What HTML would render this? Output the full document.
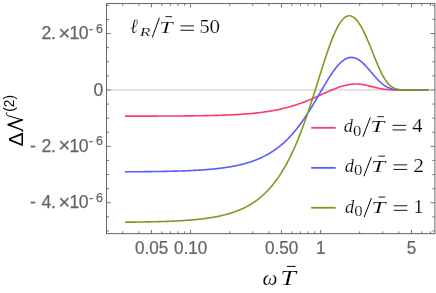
<!DOCTYPE html>
<html><head><meta charset="utf-8"><style>
html,body{margin:0;padding:0;background:#fff;}
svg{display:block;will-change:transform}
text{font-family:"Liberation Sans",sans-serif;}
.s{font-family:"Liberation Serif",serif;}
</style></head><body>
<svg width="436" height="293" viewBox="0 0 436 293">
<rect width="436" height="293" fill="#fff"/>
<line x1="106.5" y1="89.95" x2="434.9" y2="89.95" stroke="#c8c8c8" stroke-width="1"/>
<g fill="none" stroke-width="1.6" stroke-linecap="butt" stroke-linejoin="round">
<path d="M125.00,116.15 L126.00,116.14 L127.00,116.14 L128.00,116.14 L129.00,116.14 L130.00,116.14 L131.00,116.14 L132.00,116.14 L133.00,116.14 L134.00,116.13 L135.00,116.13 L136.00,116.13 L137.00,116.13 L138.00,116.13 L139.00,116.13 L140.00,116.12 L141.00,116.12 L142.00,116.12 L143.00,116.12 L144.00,116.12 L145.00,116.11 L146.00,116.11 L147.00,116.11 L148.00,116.11 L149.00,116.10 L150.00,116.10 L151.00,116.10 L152.00,116.10 L153.00,116.09 L154.00,116.09 L155.00,116.09 L156.00,116.08 L157.00,116.08 L158.00,116.08 L159.00,116.07 L160.00,116.07 L161.00,116.06 L162.00,116.06 L163.00,116.06 L164.00,116.05 L165.00,116.05 L166.00,116.04 L167.00,116.04 L168.00,116.03 L169.00,116.03 L170.00,116.02 L171.00,116.02 L172.00,116.01 L173.00,116.01 L174.00,116.00 L175.00,115.99 L176.00,115.99 L177.00,115.98 L178.00,115.97 L179.00,115.96 L180.00,115.96 L181.00,115.95 L182.00,115.94 L183.00,115.93 L184.00,115.92 L185.00,115.91 L186.00,115.90 L187.00,115.89 L188.00,115.88 L189.00,115.87 L190.00,115.86 L191.00,115.85 L192.00,115.84 L193.00,115.83 L194.00,115.81 L195.00,115.80 L196.00,115.79 L197.00,115.77 L198.00,115.76 L199.00,115.74 L200.00,115.73 L201.00,115.71 L202.00,115.70 L203.00,115.68 L204.00,115.66 L205.00,115.64 L206.00,115.62 L207.00,115.60 L208.00,115.58 L209.00,115.56 L210.00,115.54 L211.00,115.52 L212.00,115.49 L213.00,115.47 L214.00,115.44 L215.00,115.42 L216.00,115.39 L217.00,115.36 L218.00,115.33 L219.00,115.30 L220.00,115.27 L221.00,115.24 L222.00,115.20 L223.00,115.17 L224.00,115.13 L225.00,115.10 L226.00,115.06 L227.00,115.02 L228.00,114.98 L229.00,114.93 L230.00,114.89 L231.00,114.84 L232.00,114.80 L233.00,114.75 L234.00,114.70 L235.00,114.65 L236.00,114.59 L237.00,114.54 L238.00,114.48 L239.00,114.42 L240.00,114.36 L241.00,114.29 L242.00,114.23 L243.00,114.16 L244.00,114.09 L245.00,114.01 L246.00,113.94 L247.00,113.86 L248.00,113.78 L249.00,113.69 L250.00,113.61 L251.00,113.52 L252.00,113.43 L253.00,113.33 L254.00,113.23 L255.00,113.13 L256.00,113.02 L257.00,112.92 L258.00,112.80 L259.00,112.69 L260.00,112.57 L261.00,112.45 L262.00,112.32 L263.00,112.19 L264.00,112.05 L265.00,111.91 L266.00,111.77 L267.00,111.62 L268.00,111.47 L269.00,111.31 L270.00,111.15 L271.00,110.98 L272.00,110.81 L273.00,110.63 L274.00,110.45 L275.00,110.26 L276.00,110.06 L277.00,109.86 L278.00,109.66 L279.00,109.45 L280.00,109.23 L281.00,109.01 L282.00,108.78 L283.00,108.54 L284.00,108.30 L285.00,108.05 L286.00,107.80 L287.00,107.53 L288.00,107.27 L289.00,106.99 L290.00,106.71 L291.00,106.42 L292.00,106.12 L293.00,105.82 L294.00,105.51 L295.00,105.20 L296.00,104.87 L297.00,104.54 L298.00,104.20 L299.00,103.86 L300.00,103.51 L301.00,103.15 L302.00,102.78 L303.00,102.41 L304.00,102.03 L305.00,101.65 L306.00,101.25 L307.00,100.86 L308.00,100.45 L309.00,100.04 L310.00,99.63 L311.00,99.21 L312.00,98.78 L313.00,98.35 L314.00,97.92 L315.00,97.48 L316.00,97.04 L317.00,96.59 L318.00,96.14 L319.00,95.69 L320.00,95.24 L321.00,94.79 L322.00,94.33 L323.00,93.88 L324.00,93.43 L325.00,92.97 L326.00,92.52 L327.00,92.08 L328.00,91.63 L329.00,91.19 L330.00,90.76 L331.00,90.33 L332.00,89.90 L333.00,89.49 L334.00,89.08 L335.00,88.68 L336.00,88.29 L337.00,87.91 L338.00,87.55 L339.00,87.20 L340.00,86.86 L341.00,86.53 L342.00,86.22 L343.00,85.93 L344.00,85.66 L345.00,85.40 L346.00,85.17 L347.00,84.95 L348.00,84.75 L349.00,84.58 L350.00,84.43 L351.00,84.30 L352.00,84.19 L353.00,84.11 L354.00,84.06 L355.00,84.02 L356.00,84.02 L357.00,84.03 L358.00,84.07 L359.00,84.14 L360.00,84.22 L361.00,84.33 L362.00,84.46 L363.00,84.61 L364.00,84.78 L365.00,84.97 L366.00,85.18 L367.00,85.39 L368.00,85.62 L369.00,85.86 L370.00,86.11 L371.00,86.36 L372.00,86.62 L373.00,86.88 L374.00,87.13 L375.00,87.38 L376.00,87.63 L377.00,87.86 L378.00,88.09 L379.00,88.31 L380.00,88.51 L381.00,88.70 L382.00,88.87 L383.00,89.03 L384.00,89.18 L385.00,89.31 L386.00,89.42 L387.00,89.52 L388.00,89.60 L389.00,89.68 L390.00,89.74 L391.00,89.79 L392.00,89.83 L393.00,89.86 L394.00,89.89 L395.00,89.91 L396.00,89.92 L397.00,89.93 L398.00,89.94 L399.00,89.94 L400.00,89.95 L401.00,89.95 L402.00,89.95 L403.00,89.95 L404.00,89.95 L405.00,89.95 L406.00,89.95 L407.00,89.95 L408.00,89.95 L409.00,89.95 L410.00,89.95 L411.00,89.95 L412.00,89.95 L413.00,89.95 L414.00,89.95 L415.00,89.95 L416.00,89.95 L417.00,89.95 L418.00,89.95 L419.00,89.95 L420.00,89.95 L421.00,89.95 L422.00,89.95 L423.00,89.95 L424.00,89.95 L425.00,89.95 L426.00,89.95 L427.00,89.95 L428.00,89.95 L429.00,89.95" stroke="#fa3e66"/>
<path d="M125.00,171.80 L126.00,171.80 L127.00,171.79 L128.00,171.79 L129.00,171.78 L130.00,171.77 L131.00,171.77 L132.00,171.76 L133.00,171.75 L134.00,171.75 L135.00,171.74 L136.00,171.73 L137.00,171.73 L138.00,171.72 L139.00,171.71 L140.00,171.70 L141.00,171.69 L142.00,171.68 L143.00,171.68 L144.00,171.67 L145.00,171.66 L146.00,171.65 L147.00,171.64 L148.00,171.62 L149.00,171.61 L150.00,171.60 L151.00,171.59 L152.00,171.58 L153.00,171.56 L154.00,171.55 L155.00,171.54 L156.00,171.52 L157.00,171.51 L158.00,171.49 L159.00,171.48 L160.00,171.46 L161.00,171.44 L162.00,171.43 L163.00,171.41 L164.00,171.39 L165.00,171.37 L166.00,171.35 L167.00,171.33 L168.00,171.31 L169.00,171.29 L170.00,171.27 L171.00,171.24 L172.00,171.22 L173.00,171.19 L174.00,171.17 L175.00,171.14 L176.00,171.11 L177.00,171.08 L178.00,171.05 L179.00,171.02 L180.00,170.99 L181.00,170.96 L182.00,170.93 L183.00,170.89 L184.00,170.85 L185.00,170.82 L186.00,170.78 L187.00,170.74 L188.00,170.70 L189.00,170.65 L190.00,170.61 L191.00,170.56 L192.00,170.52 L193.00,170.47 L194.00,170.42 L195.00,170.36 L196.00,170.31 L197.00,170.25 L198.00,170.20 L199.00,170.14 L200.00,170.08 L201.00,170.01 L202.00,169.95 L203.00,169.88 L204.00,169.81 L205.00,169.73 L206.00,169.66 L207.00,169.58 L208.00,169.50 L209.00,169.42 L210.00,169.33 L211.00,169.24 L212.00,169.15 L213.00,169.05 L214.00,168.96 L215.00,168.85 L216.00,168.75 L217.00,168.64 L218.00,168.53 L219.00,168.41 L220.00,168.29 L221.00,168.17 L222.00,168.04 L223.00,167.91 L224.00,167.77 L225.00,167.63 L226.00,167.48 L227.00,167.33 L228.00,167.18 L229.00,167.02 L230.00,166.85 L231.00,166.68 L232.00,166.50 L233.00,166.31 L234.00,166.12 L235.00,165.93 L236.00,165.73 L237.00,165.52 L238.00,165.30 L239.00,165.08 L240.00,164.84 L241.00,164.61 L242.00,164.36 L243.00,164.10 L244.00,163.84 L245.00,163.57 L246.00,163.29 L247.00,163.00 L248.00,162.70 L249.00,162.39 L250.00,162.07 L251.00,161.74 L252.00,161.40 L253.00,161.05 L254.00,160.69 L255.00,160.31 L256.00,159.93 L257.00,159.53 L258.00,159.12 L259.00,158.69 L260.00,158.25 L261.00,157.80 L262.00,157.34 L263.00,156.85 L264.00,156.36 L265.00,155.85 L266.00,155.32 L267.00,154.77 L268.00,154.21 L269.00,153.63 L270.00,153.04 L271.00,152.42 L272.00,151.79 L273.00,151.13 L274.00,150.46 L275.00,149.77 L276.00,149.06 L277.00,148.32 L278.00,147.56 L279.00,146.79 L280.00,145.98 L281.00,145.16 L282.00,144.31 L283.00,143.44 L284.00,142.54 L285.00,141.62 L286.00,140.67 L287.00,139.70 L288.00,138.70 L289.00,137.67 L290.00,136.62 L291.00,135.54 L292.00,134.43 L293.00,133.30 L294.00,132.13 L295.00,130.94 L296.00,129.72 L297.00,128.47 L298.00,127.20 L299.00,125.89 L300.00,124.56 L301.00,123.19 L302.00,121.80 L303.00,120.38 L304.00,118.94 L305.00,117.47 L306.00,115.97 L307.00,114.45 L308.00,112.90 L309.00,111.33 L310.00,109.74 L311.00,108.12 L312.00,106.49 L313.00,104.84 L314.00,103.17 L315.00,101.49 L316.00,99.79 L317.00,98.09 L318.00,96.38 L319.00,94.66 L320.00,92.94 L321.00,91.21 L322.00,89.49 L323.00,87.78 L324.00,86.08 L325.00,84.39 L326.00,82.71 L327.00,81.06 L328.00,79.43 L329.00,77.82 L330.00,76.25 L331.00,74.72 L332.00,73.22 L333.00,71.77 L334.00,70.37 L335.00,69.02 L336.00,67.72 L337.00,66.49 L338.00,65.32 L339.00,64.22 L340.00,63.19 L341.00,62.24 L342.00,61.36 L343.00,60.56 L344.00,59.85 L345.00,59.23 L346.00,58.69 L347.00,58.25 L348.00,57.89 L349.00,57.63 L350.00,57.46 L351.00,57.38 L352.00,57.40 L353.00,57.50 L354.00,57.70 L355.00,57.99 L356.00,58.37 L357.00,58.83 L358.00,59.37 L359.00,59.99 L360.00,60.69 L361.00,61.46 L362.00,62.30 L363.00,63.19 L364.00,64.15 L365.00,65.15 L366.00,66.21 L367.00,67.30 L368.00,68.42 L369.00,69.57 L370.00,70.74 L371.00,71.92 L372.00,73.10 L373.00,74.28 L374.00,75.45 L375.00,76.60 L376.00,77.73 L377.00,78.82 L378.00,79.88 L379.00,80.89 L380.00,81.85 L381.00,82.76 L382.00,83.61 L383.00,84.40 L384.00,85.13 L385.00,85.80 L386.00,86.41 L387.00,86.95 L388.00,87.43 L389.00,87.86 L390.00,88.23 L391.00,88.55 L392.00,88.82 L393.00,89.05 L394.00,89.24 L395.00,89.40 L396.00,89.53 L397.00,89.63 L398.00,89.71 L399.00,89.77 L400.00,89.82 L401.00,89.86 L402.00,89.88 L403.00,89.90 L404.00,89.92 L405.00,89.93 L406.00,89.94 L407.00,89.94 L408.00,89.94 L409.00,89.95 L410.00,89.95 L411.00,89.95 L412.00,89.95 L413.00,89.95 L414.00,89.95 L415.00,89.95 L416.00,89.95 L417.00,89.95 L418.00,89.95 L419.00,89.95 L420.00,89.95 L421.00,89.95 L422.00,89.95 L423.00,89.95 L424.00,89.95 L425.00,89.95 L426.00,89.95 L427.00,89.95 L428.00,89.95 L429.00,89.95" stroke="#5a5cff"/>
<path d="M125.00,222.19 L126.00,222.18 L127.00,222.17 L128.00,222.16 L129.00,222.15 L130.00,222.14 L131.00,222.13 L132.00,222.12 L133.00,222.11 L134.00,222.10 L135.00,222.08 L136.00,222.07 L137.00,222.06 L138.00,222.04 L139.00,222.03 L140.00,222.02 L141.00,222.00 L142.00,221.99 L143.00,221.97 L144.00,221.95 L145.00,221.94 L146.00,221.92 L147.00,221.90 L148.00,221.88 L149.00,221.86 L150.00,221.84 L151.00,221.82 L152.00,221.80 L153.00,221.78 L154.00,221.75 L155.00,221.73 L156.00,221.70 L157.00,221.68 L158.00,221.65 L159.00,221.62 L160.00,221.60 L161.00,221.57 L162.00,221.54 L163.00,221.51 L164.00,221.47 L165.00,221.44 L166.00,221.40 L167.00,221.37 L168.00,221.33 L169.00,221.29 L170.00,221.25 L171.00,221.21 L172.00,221.17 L173.00,221.12 L174.00,221.08 L175.00,221.03 L176.00,220.98 L177.00,220.93 L178.00,220.88 L179.00,220.83 L180.00,220.77 L181.00,220.71 L182.00,220.65 L183.00,220.59 L184.00,220.53 L185.00,220.46 L186.00,220.39 L187.00,220.32 L188.00,220.25 L189.00,220.17 L190.00,220.10 L191.00,220.01 L192.00,219.93 L193.00,219.84 L194.00,219.75 L195.00,219.66 L196.00,219.57 L197.00,219.47 L198.00,219.36 L199.00,219.26 L200.00,219.15 L201.00,219.04 L202.00,218.92 L203.00,218.80 L204.00,218.67 L205.00,218.54 L206.00,218.41 L207.00,218.27 L208.00,218.12 L209.00,217.98 L210.00,217.82 L211.00,217.66 L212.00,217.50 L213.00,217.33 L214.00,217.15 L215.00,216.97 L216.00,216.78 L217.00,216.59 L218.00,216.39 L219.00,216.18 L220.00,215.97 L221.00,215.74 L222.00,215.52 L223.00,215.28 L224.00,215.03 L225.00,214.78 L226.00,214.52 L227.00,214.24 L228.00,213.96 L229.00,213.67 L230.00,213.37 L231.00,213.06 L232.00,212.74 L233.00,212.41 L234.00,212.07 L235.00,211.71 L236.00,211.34 L237.00,210.97 L238.00,210.57 L239.00,210.17 L240.00,209.75 L241.00,209.32 L242.00,208.87 L243.00,208.41 L244.00,207.93 L245.00,207.44 L246.00,206.92 L247.00,206.40 L248.00,205.85 L249.00,205.29 L250.00,204.71 L251.00,204.10 L252.00,203.48 L253.00,202.84 L254.00,202.18 L255.00,201.49 L256.00,200.78 L257.00,200.05 L258.00,199.29 L259.00,198.51 L260.00,197.71 L261.00,196.87 L262.00,196.01 L263.00,195.13 L264.00,194.21 L265.00,193.26 L266.00,192.29 L267.00,191.28 L268.00,190.24 L269.00,189.16 L270.00,188.06 L271.00,186.91 L272.00,185.73 L273.00,184.52 L274.00,183.26 L275.00,181.97 L276.00,180.64 L277.00,179.27 L278.00,177.85 L279.00,176.39 L280.00,174.89 L281.00,173.34 L282.00,171.75 L283.00,170.11 L284.00,168.43 L285.00,166.69 L286.00,164.91 L287.00,163.07 L288.00,161.19 L289.00,159.25 L290.00,157.26 L291.00,155.22 L292.00,153.12 L293.00,150.97 L294.00,148.77 L295.00,146.51 L296.00,144.20 L297.00,141.83 L298.00,139.40 L299.00,136.93 L300.00,134.39 L301.00,131.81 L302.00,129.17 L303.00,126.48 L304.00,123.74 L305.00,120.95 L306.00,118.11 L307.00,115.22 L308.00,112.29 L309.00,109.32 L310.00,106.31 L311.00,103.26 L312.00,100.18 L313.00,97.07 L314.00,93.93 L315.00,90.77 L316.00,87.60 L317.00,84.41 L318.00,81.22 L319.00,78.02 L320.00,74.83 L321.00,71.65 L322.00,68.49 L323.00,65.35 L324.00,62.24 L325.00,59.17 L326.00,56.14 L327.00,53.17 L328.00,50.26 L329.00,47.41 L330.00,44.65 L331.00,41.97 L332.00,39.38 L333.00,36.89 L334.00,34.51 L335.00,32.24 L336.00,30.10 L337.00,28.08 L338.00,26.20 L339.00,24.47 L340.00,22.88 L341.00,21.44 L342.00,20.16 L343.00,19.03 L344.00,18.07 L345.00,17.28 L346.00,16.65 L347.00,16.19 L348.00,15.90 L349.00,15.78 L350.00,15.82 L351.00,16.02 L352.00,16.39 L353.00,16.92 L354.00,17.61 L355.00,18.45 L356.00,19.44 L357.00,20.57 L358.00,21.84 L359.00,23.25 L360.00,24.78 L361.00,26.44 L362.00,28.22 L363.00,30.11 L364.00,32.10 L365.00,34.19 L366.00,36.36 L367.00,38.62 L368.00,40.95 L369.00,43.34 L370.00,45.77 L371.00,48.25 L372.00,50.75 L373.00,53.27 L374.00,55.78 L375.00,58.28 L376.00,60.75 L377.00,63.17 L378.00,65.54 L379.00,67.83 L380.00,70.03 L381.00,72.14 L382.00,74.13 L383.00,76.01 L384.00,77.76 L385.00,79.37 L386.00,80.85 L387.00,82.19 L388.00,83.40 L389.00,84.47 L390.00,85.41 L391.00,86.23 L392.00,86.93 L393.00,87.53 L394.00,88.03 L395.00,88.45 L396.00,88.79 L397.00,89.07 L398.00,89.29 L399.00,89.46 L400.00,89.59 L401.00,89.69 L402.00,89.77 L403.00,89.82 L404.00,89.86 L405.00,89.89 L406.00,89.91 L407.00,89.92 L408.00,89.93 L409.00,89.94 L410.00,89.94 L411.00,89.95 L412.00,89.95 L413.00,89.95 L414.00,89.95 L415.00,89.95 L416.00,89.95 L417.00,89.95 L418.00,89.95 L419.00,89.95 L420.00,89.95 L421.00,89.95 L422.00,89.95 L423.00,89.95 L424.00,89.95 L425.00,89.95 L426.00,89.95 L427.00,89.95 L428.00,89.95 L429.00,89.95" stroke="#80991c"/>
</g>
<rect x="106.5" y="3.55" width="328.4" height="230.1" fill="none" stroke="#666" stroke-width="1"/>
<g stroke="#666" stroke-width="0.9"><line x1="151.47" y1="233.65" x2="151.47" y2="229.85"/><line x1="151.47" y1="3.55" x2="151.47" y2="7.35"/><line x1="190.60" y1="233.65" x2="190.60" y2="229.85"/><line x1="190.60" y1="3.55" x2="190.60" y2="7.35"/><line x1="281.47" y1="233.65" x2="281.47" y2="229.85"/><line x1="281.47" y1="3.55" x2="281.47" y2="7.35"/><line x1="320.60" y1="233.65" x2="320.60" y2="229.85"/><line x1="320.60" y1="3.55" x2="320.60" y2="7.35"/><line x1="411.47" y1="233.65" x2="411.47" y2="229.85"/><line x1="411.47" y1="3.55" x2="411.47" y2="7.35"/><line x1="122.63" y1="233.65" x2="122.63" y2="231.35"/><line x1="122.63" y1="3.55" x2="122.63" y2="5.85"/><line x1="138.87" y1="233.65" x2="138.87" y2="231.35"/><line x1="138.87" y1="3.55" x2="138.87" y2="5.85"/><line x1="161.76" y1="233.65" x2="161.76" y2="231.35"/><line x1="161.76" y1="3.55" x2="161.76" y2="5.85"/><line x1="170.46" y1="233.65" x2="170.46" y2="231.35"/><line x1="170.46" y1="3.55" x2="170.46" y2="5.85"/><line x1="178.00" y1="233.65" x2="178.00" y2="231.35"/><line x1="178.00" y1="3.55" x2="178.00" y2="5.85"/><line x1="184.65" y1="233.65" x2="184.65" y2="231.35"/><line x1="184.65" y1="3.55" x2="184.65" y2="5.85"/><line x1="229.73" y1="233.65" x2="229.73" y2="231.35"/><line x1="229.73" y1="3.55" x2="229.73" y2="5.85"/><line x1="252.63" y1="233.65" x2="252.63" y2="231.35"/><line x1="252.63" y1="3.55" x2="252.63" y2="5.85"/><line x1="268.87" y1="233.65" x2="268.87" y2="231.35"/><line x1="268.87" y1="3.55" x2="268.87" y2="5.85"/><line x1="291.76" y1="233.65" x2="291.76" y2="231.35"/><line x1="291.76" y1="3.55" x2="291.76" y2="5.85"/><line x1="300.46" y1="233.65" x2="300.46" y2="231.35"/><line x1="300.46" y1="3.55" x2="300.46" y2="5.85"/><line x1="308.00" y1="233.65" x2="308.00" y2="231.35"/><line x1="308.00" y1="3.55" x2="308.00" y2="5.85"/><line x1="314.65" y1="233.65" x2="314.65" y2="231.35"/><line x1="314.65" y1="3.55" x2="314.65" y2="5.85"/><line x1="359.73" y1="233.65" x2="359.73" y2="231.35"/><line x1="359.73" y1="3.55" x2="359.73" y2="5.85"/><line x1="382.63" y1="233.65" x2="382.63" y2="231.35"/><line x1="382.63" y1="3.55" x2="382.63" y2="5.85"/><line x1="398.87" y1="233.65" x2="398.87" y2="231.35"/><line x1="398.87" y1="3.55" x2="398.87" y2="5.85"/><line x1="421.76" y1="233.65" x2="421.76" y2="231.35"/><line x1="421.76" y1="3.55" x2="421.76" y2="5.85"/><line x1="430.46" y1="233.65" x2="430.46" y2="231.35"/><line x1="430.46" y1="3.55" x2="430.46" y2="5.85"/><line x1="106.50" y1="230.95" x2="109.10" y2="230.95"/><line x1="434.90" y1="230.95" x2="432.30" y2="230.95"/><line x1="106.50" y1="216.85" x2="109.10" y2="216.85"/><line x1="434.90" y1="216.85" x2="432.30" y2="216.85"/><line x1="106.50" y1="202.75" x2="110.90" y2="202.75"/><line x1="434.90" y1="202.75" x2="430.50" y2="202.75"/><line x1="106.50" y1="188.65" x2="109.10" y2="188.65"/><line x1="434.90" y1="188.65" x2="432.30" y2="188.65"/><line x1="106.50" y1="174.55" x2="109.10" y2="174.55"/><line x1="434.90" y1="174.55" x2="432.30" y2="174.55"/><line x1="106.50" y1="160.45" x2="109.10" y2="160.45"/><line x1="434.90" y1="160.45" x2="432.30" y2="160.45"/><line x1="106.50" y1="146.35" x2="110.90" y2="146.35"/><line x1="434.90" y1="146.35" x2="430.50" y2="146.35"/><line x1="106.50" y1="132.25" x2="109.10" y2="132.25"/><line x1="434.90" y1="132.25" x2="432.30" y2="132.25"/><line x1="106.50" y1="118.15" x2="109.10" y2="118.15"/><line x1="434.90" y1="118.15" x2="432.30" y2="118.15"/><line x1="106.50" y1="104.05" x2="109.10" y2="104.05"/><line x1="434.90" y1="104.05" x2="432.30" y2="104.05"/><line x1="106.50" y1="89.95" x2="110.90" y2="89.95"/><line x1="434.90" y1="89.95" x2="430.50" y2="89.95"/><line x1="106.50" y1="75.85" x2="109.10" y2="75.85"/><line x1="434.90" y1="75.85" x2="432.30" y2="75.85"/><line x1="106.50" y1="61.75" x2="109.10" y2="61.75"/><line x1="434.90" y1="61.75" x2="432.30" y2="61.75"/><line x1="106.50" y1="47.65" x2="109.10" y2="47.65"/><line x1="434.90" y1="47.65" x2="432.30" y2="47.65"/><line x1="106.50" y1="33.55" x2="110.90" y2="33.55"/><line x1="434.90" y1="33.55" x2="430.50" y2="33.55"/><line x1="106.50" y1="19.45" x2="109.10" y2="19.45"/><line x1="434.90" y1="19.45" x2="432.30" y2="19.45"/><line x1="106.50" y1="5.35" x2="109.10" y2="5.35"/><line x1="434.90" y1="5.35" x2="432.30" y2="5.35"/></g>
<g fill="#666" stroke="#666" stroke-width="0.25" font-size="17.6px" text-anchor="middle">
<text transform="translate(151.6,254.0) scale(0.97,1)">0.05</text>
<text transform="translate(190.7,254.0) scale(0.97,1)">0.10</text>
<text transform="translate(281.6,254.0) scale(0.97,1)">0.50</text>
<text transform="translate(320.8,254.0) scale(0.97,1)">1</text>
<text transform="translate(411.5,254.0) scale(0.97,1)">5</text>
</g>
<g fill="#666" stroke="#666" stroke-width="0.25" font-size="17.6px"><text x="41.60" y="39.10">2</text><text x="51.00" y="39.10">.</text><text x="58.40" y="39.70" font-size="20px">×</text><text x="69.60" y="39.10">1</text><text x="78.80" y="39.10">0</text><text x="88.90" y="32.70" font-size="12.5px">-</text><text x="95.90" y="32.70" font-size="12.5px">6</text></g><text x="93.5" y="95.5" fill="#666" stroke="#666" stroke-width="0.25" font-size="17.6px">0</text><g fill="#666" stroke="#666" stroke-width="0.25" font-size="17.6px"><text x="30.00" y="151.60">-</text><text x="41.60" y="151.60">2</text><text x="51.00" y="151.60">.</text><text x="58.40" y="152.20" font-size="20px">×</text><text x="69.60" y="151.60">1</text><text x="78.80" y="151.60">0</text><text x="88.90" y="145.20" font-size="12.5px">-</text><text x="95.90" y="145.20" font-size="12.5px">6</text></g><g fill="#666" stroke="#666" stroke-width="0.25" font-size="17.6px"><text x="30.00" y="207.90">-</text><text x="41.60" y="207.90">4</text><text x="51.00" y="207.90">.</text><text x="58.40" y="208.50" font-size="20px">×</text><text x="69.60" y="207.90">1</text><text x="78.80" y="207.90">0</text><text x="88.90" y="201.50" font-size="12.5px">-</text><text x="95.90" y="201.50" font-size="12.5px">6</text></g>
<!-- title --><text transform="translate(130.33,32.60) scale(0.902,1)" font-size="20.13px" fill="#000" stroke="#fff" stroke-width="0.18" style='font-family:"Liberation Serif",serif' font-style="italic">ℓ</text><text transform="translate(139.69,35.60) scale(1.543,1)" font-size="11.45px" fill="#000" stroke="#fff" stroke-width="0.18" style='font-family:"Liberation Serif",serif' font-style="italic">R</text><line x1="152.30" y1="37.40" x2="159.40" y2="17.80" stroke="#000" stroke-width="1.00"/><text transform="translate(159.13,32.60) scale(1.379,1)" font-size="17.41px" fill="#000" stroke="#fff" stroke-width="0.18" style='font-family:"Liberation Serif",serif' font-style="italic">T</text><line x1="165.40" y1="16.70" x2="172.10" y2="16.70" stroke="#000" stroke-width="0.90"/><line x1="180.40" y1="25.90" x2="194.00" y2="25.90" stroke="#000" stroke-width="0.90"/><line x1="180.40" y1="30.30" x2="194.00" y2="30.30" stroke="#000" stroke-width="0.90"/><text transform="translate(199.52,32.70) scale(1.084,1)" font-size="18.78px" fill="#000" stroke="#fff" stroke-width="0.18" style='font-family:"Liberation Serif",serif'>5</text><text transform="translate(209.60,32.70) scale(1.135,1)" font-size="18.50px" fill="#000" stroke="#fff" stroke-width="0.18" style='font-family:"Liberation Serif",serif'>0</text><line x1="311.20" y1="127.80" x2="335.70" y2="127.80" stroke="#fa3e66" stroke-width="1.80"/><text transform="translate(343.74,132.35) scale(1.007,1)" font-size="18.30px" fill="#000" stroke="#fff" stroke-width="0.18" style='font-family:"Liberation Serif",serif' font-style="italic">d</text><text transform="translate(352.96,135.85) scale(1.211,1)" font-size="13.83px" fill="#000" stroke="#fff" stroke-width="0.18" style='font-family:"Liberation Serif",serif'>0</text><line x1="362.90" y1="136.75" x2="370.30" y2="117.55" stroke="#000" stroke-width="1.00"/><text transform="translate(370.36,132.35) scale(1.442,1)" font-size="17.41px" fill="#000" stroke="#fff" stroke-width="0.18" style='font-family:"Liberation Serif",serif' font-style="italic">T</text><line x1="377.40" y1="116.65" x2="384.00" y2="116.65" stroke="#000" stroke-width="0.90"/><line x1="392.50" y1="125.35" x2="406.20" y2="125.35" stroke="#000" stroke-width="0.90"/><line x1="392.50" y1="129.95" x2="406.20" y2="129.95" stroke="#000" stroke-width="0.90"/><text transform="translate(412.30,132.35) scale(1.096,1)" font-size="18.84px" fill="#000" stroke="#fff" stroke-width="0.18" style='font-family:"Liberation Serif",serif'>4</text><line x1="311.20" y1="167.85" x2="335.70" y2="167.85" stroke="#5a5cff" stroke-width="1.80"/><text transform="translate(344.74,171.85) scale(1.007,1)" font-size="18.30px" fill="#000" stroke="#fff" stroke-width="0.18" style='font-family:"Liberation Serif",serif' font-style="italic">d</text><text transform="translate(353.96,175.35) scale(1.211,1)" font-size="13.83px" fill="#000" stroke="#fff" stroke-width="0.18" style='font-family:"Liberation Serif",serif'>0</text><line x1="363.90" y1="176.25" x2="371.30" y2="157.05" stroke="#000" stroke-width="1.00"/><text transform="translate(371.36,171.85) scale(1.442,1)" font-size="17.41px" fill="#000" stroke="#fff" stroke-width="0.18" style='font-family:"Liberation Serif",serif' font-style="italic">T</text><line x1="378.40" y1="156.15" x2="385.00" y2="156.15" stroke="#000" stroke-width="0.90"/><line x1="393.50" y1="164.85" x2="407.20" y2="164.85" stroke="#000" stroke-width="0.90"/><line x1="393.50" y1="169.45" x2="407.20" y2="169.45" stroke="#000" stroke-width="0.90"/><text transform="translate(413.26,171.85) scale(1.145,1)" font-size="18.73px" fill="#000" stroke="#fff" stroke-width="0.18" style='font-family:"Liberation Serif",serif'>2</text><line x1="311.20" y1="207.75" x2="335.70" y2="207.75" stroke="#80991c" stroke-width="1.80"/><text transform="translate(344.94,212.75) scale(1.007,1)" font-size="18.30px" fill="#000" stroke="#fff" stroke-width="0.18" style='font-family:"Liberation Serif",serif' font-style="italic">d</text><text transform="translate(354.16,216.25) scale(1.211,1)" font-size="13.83px" fill="#000" stroke="#fff" stroke-width="0.18" style='font-family:"Liberation Serif",serif'>0</text><line x1="364.10" y1="217.15" x2="371.50" y2="197.95" stroke="#000" stroke-width="1.00"/><text transform="translate(371.56,212.75) scale(1.442,1)" font-size="17.41px" fill="#000" stroke="#fff" stroke-width="0.18" style='font-family:"Liberation Serif",serif' font-style="italic">T</text><line x1="378.60" y1="197.05" x2="385.20" y2="197.05" stroke="#000" stroke-width="0.90"/><line x1="393.70" y1="205.75" x2="407.40" y2="205.75" stroke="#000" stroke-width="0.90"/><line x1="393.70" y1="210.35" x2="407.40" y2="210.35" stroke="#000" stroke-width="0.90"/><text transform="translate(413.43,212.75) scale(1.074,1)" font-size="18.78px" fill="#000" stroke="#fff" stroke-width="0.18" style='font-family:"Liberation Serif",serif'>1</text><!-- xlabel -->
<text transform="translate(262.40,284.70) scale(1.012,1)" font-size="20.91px" fill="#000" stroke="#fff" stroke-width="0.18" style='font-family:"Liberation Serif",serif' font-style="italic">ω</text>
<text transform="translate(280.27,284.65) scale(1.364,1)" font-size="20.54px" fill="#000" stroke="#fff" stroke-width="0.18" style='font-family:"Liberation Serif",serif' font-style="italic">T</text>
<line x1="287" y1="266.4" x2="295.6" y2="266.4" stroke="#000" stroke-width="1.0"/>
<!-- ylabel -->
<g transform="translate(22.9,145.8) rotate(-90)">
<text transform="translate(-0.63,0.00) scale(1.006,1)" font-size="20.93px" fill="#000" style='font-family:"Liberation Sans",sans-serif'>Δ</text>
<g fill="none" stroke="#000" stroke-linecap="round" stroke-linejoin="round">
<path d="M14.6,-0.6 C15.2,-0.3 15.6,-0.4 15.9,-1.0 L21.1,-14.5" stroke-width="1.5"/>
<path d="M21.1,-14.5 L25.9,-0.8" stroke-width="1.9"/>
<path d="M25.9,-0.8 L30.0,-14.6 C30.5,-16.2 31.6,-17.0 33.0,-16.3" stroke-width="1.0"/>
</g>
<text x="34.0" y="-8.7" font-size="13.8px" fill="#000">(2)</text>
</g>
</svg>
</body></html>
